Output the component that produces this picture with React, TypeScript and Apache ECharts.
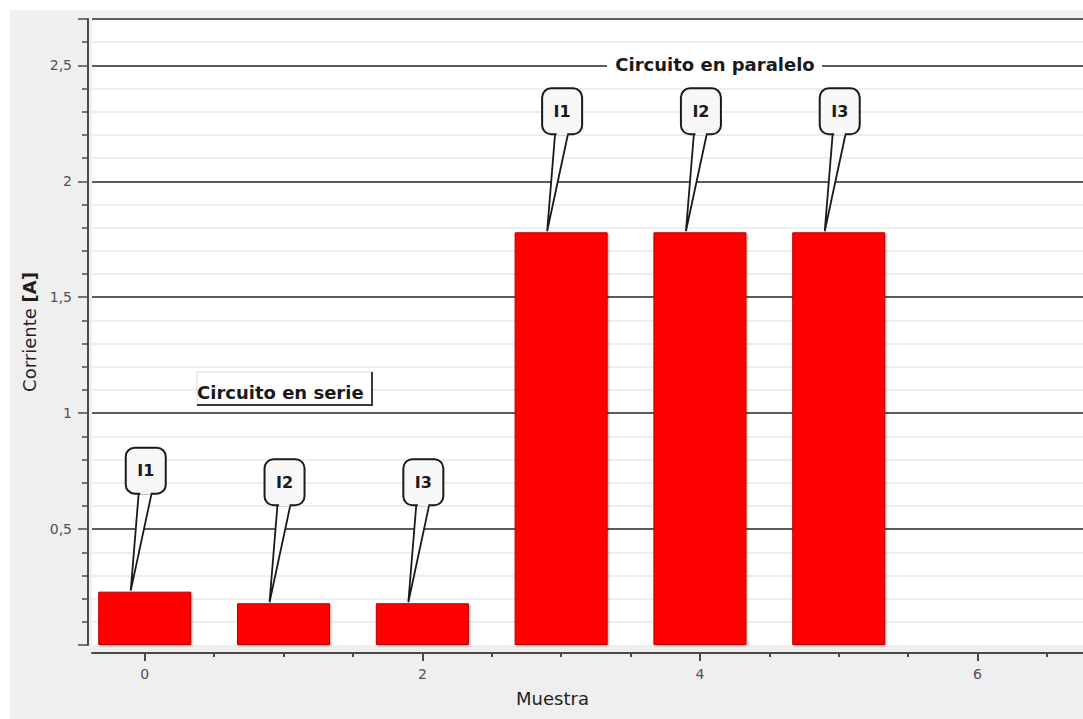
import React, { useEffect, useRef } from 'react';
import * as echarts from 'echarts';

const samples = [0, 1, 2, 3, 4, 5];
const currents = [0.23, 0.18, 0.18, 1.78, 1.78, 1.78];
const calloutLabels = ['I1', 'I2', 'I3', 'I1', 'I2', 'I3'];
const yTickText: Record<string, string> = { '0.5': '0,5', '1': '1', '1.5': '1,5', '2': '2', '2.5': '2,5' };
const xMajorTicks = [0, 2, 4, 6];
const xMinorTicks = [0.5, 1, 1.5, 2.5, 3, 3.5, 4.5, 5, 5.5, 6.5];
const seriesTitle = 'Circuito en serie';
const parallelTitle = 'Circuito en paralelo';
const xName = 'Muestra';
const yName = 'Corriente';
const yUnit = '[A]';
const yMin = 0;
const yMax = 2.7;
const yStep = 0.5;
const xMin = -0.38;
const xMax = 6.76;

const FONT = '"DejaVu Sans", "Liberation Sans", sans-serif';
const AXIS = '#4a4a4a';

export default function App() {
  const ref = useRef<HTMLDivElement>(null);
  useEffect(() => {
    if (!ref.current) return;
    const chart = echarts.init(ref.current, undefined, { renderer: 'svg' });
    const points = samples.map((s, i) => [s, currents[i]]);
    const option: any = {
      animation: false,
      backgroundColor: '#efefef',
      textStyle: { fontFamily: FONT },
      grid: { left: 82, right: 0, top: 9, bottom: 74, show: true, backgroundColor: '#ffffff', borderWidth: 0 },
      xAxis: [
        {
          type: 'value', min: xMin, max: xMax, position: 'bottom', offset: 8,
          axisLine: { show: true, onZero: false, lineStyle: { color: AXIS, width: 2 } },
          axisTick: { show: true, customValues: xMajorTicks, length: 8, lineStyle: { color: AXIS, width: 2 } },
          axisLabel: { customValues: xMajorTicks, margin: 14, color: '#505060', fontSize: 14, fontFamily: FONT },
          splitLine: { show: false },
          name: xName, nameLocation: 'middle', nameGap: 36,
          nameTextStyle: { color: '#1e1e1e', fontSize: 18, fontFamily: FONT, padding: [0, 70, 0, 0] },
        },
        {
          type: 'value', min: xMin, max: xMax, position: 'bottom', offset: 8,
          axisLine: { show: false, onZero: false },
          axisTick: { show: true, customValues: xMinorTicks, length: 4, lineStyle: { color: AXIS, width: 2 } },
          axisLabel: { show: false },
          splitLine: { show: false },
        },
      ],
      yAxis: {
        type: 'value', min: yMin, max: yMax, interval: yStep, offset: 4,
        axisLine: { show: true, onZero: false, lineStyle: { color: AXIS, width: 2 } },
        axisTick: { show: true, length: 10, lineStyle: { color: AXIS, width: 1.5 } },
        minorTick: { show: true, splitNumber: 5, length: 6, lineStyle: { color: AXIS, width: 1.5 } },
        splitLine: { show: true, showMinLine: false, lineStyle: { color: '#5c5c5c', width: 2 } },
        minorSplitLine: { show: true, lineStyle: { color: '#e8e8e8', width: 1.5 } },
        axisLabel: {
          margin: 16, color: '#505060', fontSize: 14, fontFamily: FONT,
          formatter: (v: number) => yTickText[String(v)] ?? '',
        },
        name: `{n|${yName} }{b|${yUnit}}`,
        nameLocation: 'middle', nameGap: 50,
        nameTextStyle: {
          rich: {
            n: { fontSize: 18, color: '#1e1e1e', fontFamily: FONT },
            b: { fontSize: 18, color: '#1e1e1e', fontWeight: 'bold', fontFamily: FONT },
          },
        },
      },
      series: [
        {
          type: 'bar', xAxisIndex: 0, data: points, barWidth: 93,
          itemStyle: {
            color: '#ff0000', borderColor: '#b80000', borderWidth: 1,
            shadowBlur: 2, shadowColor: 'rgba(0,0,0,0.35)', shadowOffsetX: 1, shadowOffsetY: 1,
          },
          z: 2,
        },
        {
          type: 'custom', xAxisIndex: 0, data: points, clip: false, z: 5,
          renderItem: (params: any, api: any) => {
            const p = api.coord([api.value(0), api.value(1)]);
            const tipX = p[0] - 14;
            const tipY = p[1] - 1;
            const cx = tipX + 15;
            const boxBottom = tipY - 97;
            const boxH = 46;
            const boxW = 40;
            const boxTop = boxBottom - boxH;
            return {
              type: 'group',
              children: [
                {
                  type: 'polygon',
                  shape: { points: [[cx - 7, boxBottom - 1], [tipX, tipY], [cx + 6, boxBottom - 1]] },
                  style: { fill: '#ffffff', stroke: '#1a1a1a', lineWidth: 1.8 },
                },
                {
                  type: 'rect',
                  shape: { x: cx - boxW / 2, y: boxTop, width: boxW, height: boxH, r: 9 },
                  style: { fill: '#f7f7f7', stroke: '#1a1a1a', lineWidth: 2 },
                },
                {
                  type: 'rect',
                  shape: { x: cx - 5.5, y: boxBottom - 2, width: 10.5, height: 3 },
                  style: { fill: '#f7f7f7' },
                },
                {
                  type: 'text',
                  style: {
                    text: calloutLabels[params.dataIndex], x: cx, y: boxTop + boxH / 2,
                    align: 'center', verticalAlign: 'middle',
                    font: `bold 16px ${FONT}`, fill: '#1a1a1a',
                  },
                },
              ],
            };
          },
        },
      ],
      graphic: [
        {
          type: 'rect', z: 100,
          shape: { x: 597, y: 42, width: 215, height: 24 },
          style: { fill: '#ffffff' },
        },
        {
          type: 'text', z: 101,
          style: {
            text: parallelTitle, x: 705, y: 54, align: 'center', verticalAlign: 'middle',
            font: `bold 18px ${FONT}`, fill: '#1a1a1a',
          },
        },
        {
          type: 'rect', z: 100,
          shape: { x: 187, y: 362, width: 175, height: 33 },
          style: { fill: '#ffffff', stroke: '#d8d8d8', lineWidth: 1 },
        },
        {
          type: 'polyline', z: 101,
          shape: { points: [[187, 395], [362, 395], [362, 362]] },
          style: { stroke: '#3a3a3a', lineWidth: 2, fill: 'none' },
        },
        {
          type: 'text', z: 101,
          style: {
            text: seriesTitle, x: 187, y: 382, align: 'left', verticalAlign: 'middle',
            font: `bold 18px ${FONT}`, fill: '#1a1a1a',
          },
        },
      ],
    };
    chart.setOption(option);
    return () => chart.dispose();
  }, []);
  return (
    <div
      ref={ref}
      style={{ position: 'fixed', left: 10, top: 10, width: 1073, height: 709 }}
    />
  );
}
